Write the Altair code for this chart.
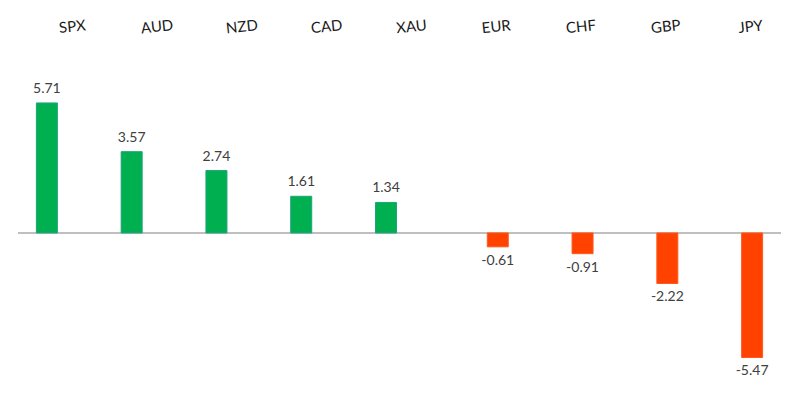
import altair as alt
import pandas as pd

cats = ["SPX", "AUD", "NZD", "CAD", "XAU", "EUR", "CHF", "GBP", "JPY"]
vals = [5.71, 3.57, 2.74, 1.61, 1.34, -0.61, -0.91, -2.22, -5.47]

df = pd.DataFrame({
    "cat": cats,
    "val": vals,
    "label": [f"{v:.2f}" for v in vals],
})

X = alt.X("cat:N", sort=None, axis=None,
          scale=alt.Scale(paddingInner=0, paddingOuter=0))
YS = alt.Scale(domain=[-6.81, 9.88], nice=False, zero=False)

base = alt.Chart()

pos_bars = base.mark_bar(fill="#00b050", stroke="#1fa37c", strokeWidth=1, width=21, xOffset=-13.5).encode(
    x=X, y=alt.Y("pv:Q", axis=None, scale=YS), y2=alt.datum(0),
    strokeOpacity=alt.condition(alt.datum.val > 0, alt.value(1), alt.value(0)))
neg_bars = base.mark_bar(fill="#ff4200", stroke="#ff5a1e", strokeWidth=1, width=21, xOffset=13.5).encode(
    x=X, y=alt.Y("nv:Q", axis=None, scale=YS), y2=alt.datum(0),
    strokeOpacity=alt.condition(alt.datum.val < 0, alt.value(1), alt.value(0)))

zero = base.mark_rule(color="#bfbfbf", strokeWidth=1.6).encode(y=alt.Y(datum=0, axis=None, scale=YS))

pos_txt = base.mark_text(
    baseline="bottom", dy=-7, dx=-13.5, fontSize=14, font="Lato", color="#404040"
).encode(x=X, y=alt.Y("pv:Q", axis=None, scale=YS),
         text=alt.condition(alt.datum.val > 0, "label:N", alt.value("")))
neg_txt = base.mark_text(
    baseline="top", dy=7, dx=13.5, fontSize=14, font="Lato", color="#404040"
).encode(x=X, y=alt.Y("nv:Q", axis=None, scale=YS),
         text=alt.condition(alt.datum.val < 0, "label:N", alt.value("")))

cat_txt = base.mark_text(
    baseline="middle", dx=12, angle=354, fontSize=15, font="Lato", color="#1a1a1a"
).encode(x=X, y=alt.value(20), text="cat:N")

chart = alt.layer(zero, pos_bars, neg_bars, pos_txt, neg_txt, cat_txt, data=df).transform_calculate(
    pv="max(datum.val, 0)", nv="min(datum.val, 0)"
).properties(
    width=763, height=380,
    padding={"left": 9, "top": 0, "right": 0, "bottom": 0},
).configure_view(strokeWidth=0)

chart.save("out.html", embed_options={"renderer": "svg", "actions": False})
